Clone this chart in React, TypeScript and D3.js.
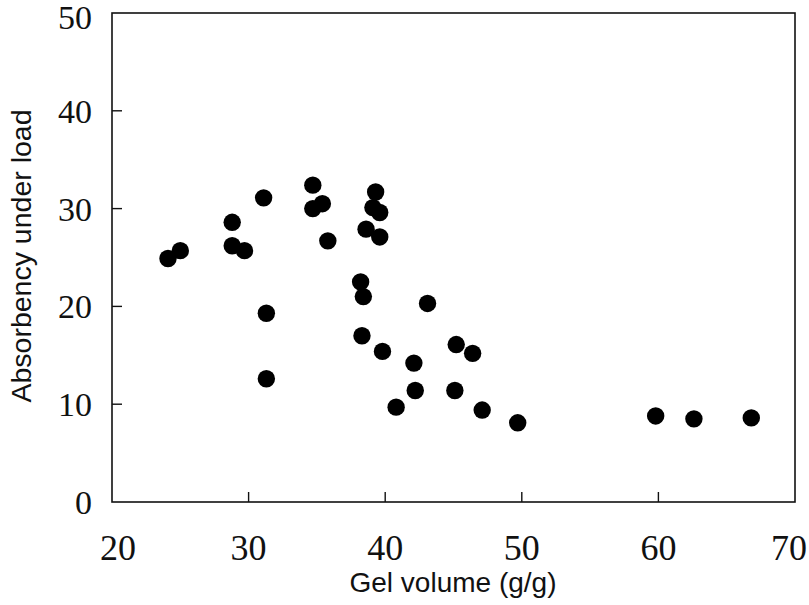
import React from "react";
import * as d3 from "d3";

const gelVolume = [24.1, 25.0, 28.8, 28.8, 29.7, 31.1, 31.3, 31.3, 34.7, 34.7, 35.4, 35.8, 39.3, 39.1, 39.6, 38.6, 39.6, 38.2, 38.4, 38.3, 39.8, 43.1, 42.1, 42.2, 40.8, 45.2, 46.4, 45.1, 47.1, 49.7, 59.8, 62.6, 66.8];
const absorbency = [24.9, 25.7, 28.6, 26.2, 25.7, 31.1, 19.3, 12.6, 32.4, 30.0, 30.5, 26.7, 31.7, 30.1, 29.6, 27.9, 27.1, 22.5, 21.0, 17.0, 15.4, 20.3, 14.2, 11.4, 9.7, 16.1, 15.2, 11.4, 9.4, 8.1, 8.8, 8.5, 8.6];
const xTicks = [20, 30, 40, 50, 60, 70];
const yTicks = [0, 10, 20, 30, 40, 50];
const xTitle = "Gel volume (g/g)";
const yTitle = "Absorbency under load";

export default function App() {
  const W = 809, H = 605;
  const x = d3.scaleLinear().domain([20, 70]).range([112, 795]);
  const y = d3.scaleLinear().domain([0, 50]).range([502, 13]);
  const ink = "#111";
  const serif = "'Liberation Serif', 'DejaVu Serif', serif";
  const sans = "'Liberation Sans', Arial, sans-serif";
  return (
    <svg width={W} height={H} style={{ position: "absolute", left: 0, top: 0, background: "#fff" }}>
      <rect x={x(20)} y={y(50)} width={x(70) - x(20)} height={y(0) - y(50)} fill="none" stroke={ink} strokeWidth={1.6} />
      {xTicks.slice(1, -1).map((t) => (
        <line key={"xt" + t} x1={x(t)} x2={x(t)} y1={y(0)} y2={y(0) - 10} stroke={ink} strokeWidth={1.4} />
      ))}
      {yTicks.slice(1, -1).map((t) => (
        <line key={"yt" + t} x1={x(20)} x2={x(20) + 10} y1={y(t)} y2={y(t)} stroke={ink} strokeWidth={1.4} />
      ))}
      {xTicks.map((t) => (
        <text key={"xl" + t} x={x(t) + (t === 20 ? 6 : t === 70 ? -6 : 0)} y={560} textAnchor="middle" fontFamily={serif} fontSize={36} fill={ink}>{t}</text>
      ))}
      {yTicks.map((t) => (
        <text key={"yl" + t} x={92} y={Math.max(y(t), 17)} dy="0.35em" textAnchor="end" fontFamily={serif} fontSize={34} fill={ink}>{t}</text>
      ))}
      {gelVolume.map((g, i) => (
        <circle key={"p" + i} cx={x(g)} cy={y(absorbency[i])} r={8.7} fill="#000" />
      ))}
      <text x={453} y={592} textAnchor="middle" fontFamily={sans} fontSize={28} fill={ink}>{xTitle}</text>
      <text transform={`translate(31,256) rotate(-90)`} textAnchor="middle" fontFamily={sans} fontSize={28.5} fill={ink}>{yTitle}</text>
    </svg>
  );
}
